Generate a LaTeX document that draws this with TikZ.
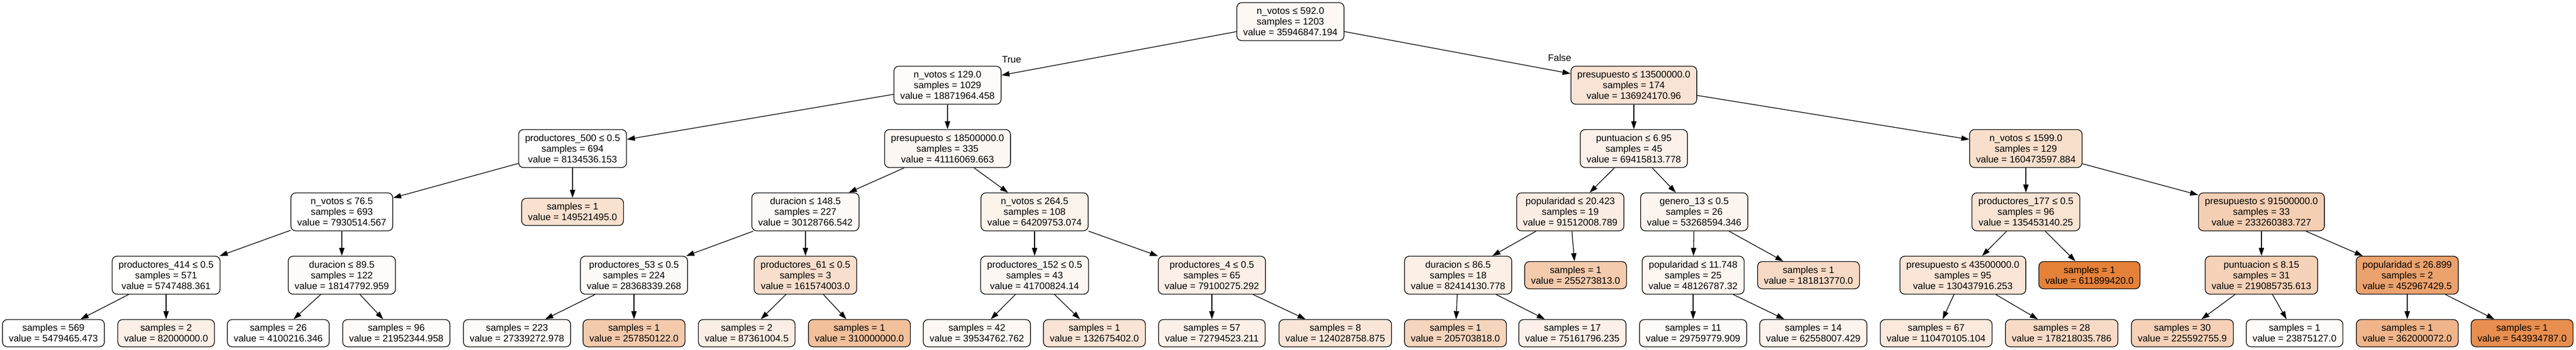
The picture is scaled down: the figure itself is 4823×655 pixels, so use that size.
\documentclass[tikz,border=0pt]{standalone}
\usepackage{fontspec}
\setmainfont{Liberation Sans}
\usetikzlibrary{arrows.meta}
\definecolor{gv}{RGB}{229,129,57}
\tikzset{
  tn/.style={draw=black, line width=1.3pt, rounded corners=9pt, align=center,
    inner xsep=12pt, inner ysep=3pt, font=\fontsize{17.8}{20}\selectfont},
  three/.style={tn, minimum height=71pt},
  two/.style={tn, minimum height=51pt},
  arr/.style={-{Triangle[length=15pt,width=10pt]}, line width=1.3pt},
  lbl/.style={font=\fontsize{17.8}{20}\selectfont, inner sep=0pt}
}
\newcommand{\fc}[1]{gv!#1!white}
\begin{document}
\begin{tikzpicture}[x=1pt,y=-1pt]
\fill[white] (0,0) rectangle (4823,655);
\useasboundingbox (0,0) rectangle (4823,655);
% level 0
\node[three, fill=\fc{5.24}] (r) at (2416,40.5) {n\_votos ≤ 592.0\\samples = 1203\\value = 35946847.194};
% level 1
\node[three, fill=\fc{2.43}] (a) at (1774,159.5) {n\_votos ≤ 129.0\\samples = 1029\\value = 18871964.458};
\node[three, fill=\fc{21.85}] (b) at (3059,159.5) {presupuesto ≤ 13500000.0\\samples = 174\\value = 136924170.96};
% level 2
\node[three, fill=\fc{0.66}] (aa) at (1072,278) {productores\_500 ≤ 0.5\\samples = 694\\value = 8134536.153};
\node[three, fill=\fc{6.09}] (ab) at (1774,278) {presupuesto ≤ 18500000.0\\samples = 335\\value = 41116069.663};
\node[three, fill=\fc{10.75}] (ba) at (3059,278) {puntuacion ≤ 6.95\\samples = 45\\value = 69415813.778};
\node[three, fill=\fc{25.73}] (bb) at (3793,278) {n\_votos ≤ 1599.0\\samples = 129\\value = 160473597.884};
% level 3
\node[three, fill=\fc{0.63}] (aaa) at (640,396.5) {n\_votos ≤ 76.5\\samples = 693\\value = 7930514.567};
\node[two, fill=\fc{23.93}] (aab) at (1072,396.5) {samples = 1\\value = 149521495.0};
\node[three, fill=\fc{4.28}] (aba) at (1508,396.5) {duracion ≤ 148.5\\samples = 227\\value = 30128766.542};
\node[three, fill=\fc{9.89}] (abb) at (1937,396.5) {n\_votos ≤ 264.5\\samples = 108\\value = 64209753.074};
\node[three, fill=\fc{14.38}] (baa) at (2940,396.5) {popularidad ≤ 20.423\\samples = 19\\value = 91512008.789};
\node[three, fill=\fc{8.09}] (bab) at (3172,396.5) {genero\_13 ≤ 0.5\\samples = 26\\value = 53268594.346};
\node[three, fill=\fc{21.61}] (bba) at (3793,396.5) {productores\_177 ≤ 0.5\\samples = 96\\value = 135453140.25};
\node[three, fill=\fc{37.70}] (bbb) at (4234,396.5) {presupuesto ≤ 91500000.0\\samples = 33\\value = 233260383.727};
% level 4
\node[three, fill=\fc{0.27}] (aaaa) at (311,515) {productores\_414 ≤ 0.5\\samples = 571\\value = 5747488.361};
\node[three, fill=\fc{2.31}] (aaab) at (640,515) {duracion ≤ 89.5\\samples = 122\\value = 18147792.959};
\node[three, fill=\fc{3.99}] (abaa) at (1187,515) {productores\_53 ≤ 0.5\\samples = 224\\value = 28368339.268};
\node[three, fill=\fc{25.91}] (abab) at (1508,515) {productores\_61 ≤ 0.5\\samples = 3\\value = 161574003.0};
\node[three, fill=\fc{6.19}] (abba) at (1937,515) {productores\_152 ≤ 0.5\\samples = 43\\value = 41700824.14};
\node[three, fill=\fc{12.34}] (abbb) at (2269,515) {productores\_4 ≤ 0.5\\samples = 65\\value = 79100275.292};
\node[three, fill=\fc{12.88}] (baaa) at (2730,515) {duracion ≤ 86.5\\samples = 18\\value = 82414130.778};
\node[two, fill=\fc{41.33}] (baab) at (2950,515) {samples = 1\\value = 255273813.0};
\node[three, fill=\fc{7.24}] (baba) at (3170,515) {popularidad ≤ 11.748\\samples = 25\\value = 48126787.32};
\node[two, fill=\fc{29.24}] (babb) at (3386,515) {samples = 1\\value = 181813770.0};
\node[three, fill=\fc{20.79}] (bbaa) at (3675,515) {presupuesto ≤ 43500000.0\\samples = 95\\value = 130437916.253};
\node[two, fill=\fc{100}] (bbab) at (3912,515) {samples = 1\\value = 611899420.0};
\node[three, fill=\fc{35.37}] (bbba) at (4234,515) {puntuacion ≤ 8.15\\samples = 31\\value = 219085735.613};
\node[three, fill=\fc{73.85}] (bbbb) at (4507,515) {popularidad ≤ 26.899\\samples = 2\\value = 452967429.5};
% level 5
\node[two, fill=\fc{0.23}] (l1) at (100,623.5) {samples = 569\\value = 5479465.473};
\node[two, fill=\fc{12.82}] (l2) at (311,623.5) {samples = 2\\value = 82000000.0};
\node[two, fill=\fc{0}] (l3) at (521,623.5) {samples = 26\\value = 4100216.346};
\node[two, fill=\fc{2.94}] (l4) at (742,623.5) {samples = 96\\value = 21952344.958};
\node[two, fill=\fc{3.82}] (l5) at (968,623.5) {samples = 223\\value = 27339272.978};
\node[two, fill=\fc{41.75}] (l6) at (1187,623.5) {samples = 1\\value = 257850122.0};
\node[two, fill=\fc{13.70}] (l7) at (1398,623.5) {samples = 2\\value = 87361004.5};
\node[two, fill=\fc{50.33}] (l8) at (1609,623.5) {samples = 1\\value = 310000000.0};
\node[two, fill=\fc{5.83}] (l9) at (1829,623.5) {samples = 42\\value = 39534762.762};
\node[two, fill=\fc{21.15}] (l10) at (2049,623.5) {samples = 1\\value = 132675402.0};
\node[two, fill=\fc{11.30}] (l11) at (2269,623.5) {samples = 57\\value = 72794523.211};
\node[two, fill=\fc{19.73}] (l12) at (2500,623.5) {samples = 8\\value = 124028758.875};
\node[two, fill=\fc{33.17}] (l13) at (2725,623.5) {samples = 1\\value = 205703818.0};
\node[two, fill=\fc{11.69}] (l14) at (2944,623.5) {samples = 17\\value = 75161796.235};
\node[two, fill=\fc{4.22}] (l15) at (3170,623.5) {samples = 11\\value = 29759779.909};
\node[two, fill=\fc{9.62}] (l16) at (3395,623.5) {samples = 14\\value = 62558007.429};
\node[two, fill=\fc{17.50}] (l17) at (3625,623.5) {samples = 67\\value = 110470105.104};
\node[two, fill=\fc{28.65}] (l18) at (3860,623.5) {samples = 28\\value = 178218035.786};
\node[two, fill=\fc{36.44}] (l19) at (4086,623.5) {samples = 30\\value = 225592755.9};
\node[two, fill=\fc{3.25}] (l20) at (4296,623.5) {samples = 1\\value = 23875127.0};
\node[two, fill=\fc{58.89}] (l21) at (4507,623.5) {samples = 1\\value = 362000072.0};
\node[two, fill=\fc{88.82}] (l22) at (4722,623.5) {samples = 1\\value = 543934787.0};
% labels
\node[lbl] (tlab) at (1894,111) {True};
\node[lbl] (flab) at (2920,108) {False};
% edges
\foreach \p/\c in {r/a, r/b, a/aa, a/ab, b/ba, b/bb,
  aa/aaa, aa/aab, ab/aba, ab/abb, ba/baa, ba/bab, bb/bba, bb/bbb,
  aaa/aaaa, aaa/aaab, aba/abaa, aba/abab, abb/abba, abb/abbb,
  baa/baaa, baa/baab, bab/baba, bab/babb, bba/bbaa, bba/bbab, bbb/bbba, bbb/bbbb,
  aaaa/l1, aaaa/l2, aaab/l3, aaab/l4, abaa/l5, abaa/l6, abab/l7, abab/l8,
  abba/l9, abba/l10, abbb/l11, abbb/l12, baaa/l13, baaa/l14, baba/l15, baba/l16,
  bbaa/l17, bbaa/l18, bbba/l19, bbba/l20, bbbb/l21, bbbb/l22}
  \draw[arr] (\p) -- (\c);
\end{tikzpicture}
\end{document}
